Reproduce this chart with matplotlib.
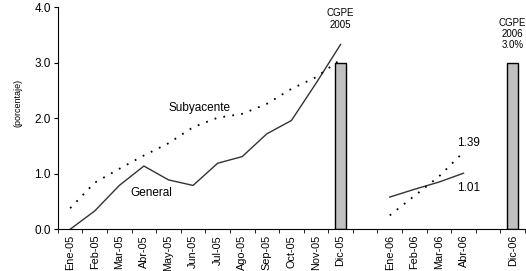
import numpy as np
import matplotlib.pyplot as plt

plt.rcParams['font.family'] = ['Liberation Sans', 'DejaVu Sans']

# categorias (huecos vacios entre periodos)
meses = ['Ene-05', 'Feb-05', 'Mar-05', 'Abr-05', 'May-05', 'Jun-05', 'Jul-05',
         'Ago-05', 'Sep-05', 'Oct-05', 'Nov-05', 'Dic-05', '',
         'Ene-06', 'Feb-06', 'Mar-06', 'Abr-06', '', 'Dic-06']

general = [0.0, 0.33, 0.79, 1.14, 0.89, 0.79, 1.19, 1.31, 1.72, 1.96, 2.63, 3.33, None,
           0.58, 0.72, 0.85, 1.01, None, None]
subyacente = [0.38, 0.84, 1.09, 1.33, 1.55, 1.84, 2.01, 2.08, 2.26, 2.53, 2.74, 3.06, None,
              0.25, 0.60, 0.95, 1.39, None, None]
cgpe = [None] * 11 + [3.0] + [None] * 6 + [3.0]

x = np.arange(len(meses))
g = np.array([np.nan if v is None else v for v in general])
s = np.array([np.nan if v is None else v for v in subyacente])
b = np.array([np.nan if v is None else v for v in cgpe])

fig = plt.figure(figsize=(5.26, 2.71), dpi=100)
ax = fig.add_axes([0.110, 0.154, 0.888, 0.819])

ax.bar(x, b, width=0.42, color='#c0c0c0', edgecolor='black', linewidth=1.0, zorder=2)
ax.plot(x, g, color='#333333', linewidth=1.0, zorder=3)
ax.plot(x, s, color='black', linestyle=(0, (1, 4)), linewidth=1.3, zorder=3)

ax.set_xlim(-0.5, len(meses) - 0.5)
ax.set_ylim(0, 4)
ax.set_yticks([0, 1, 2, 3, 4])
ax.set_yticklabels(['%.1f' % v for v in [0, 1, 2, 3, 4]], fontsize=8.5)
ax.set_ylabel('(porcentaje)', fontsize=6.5)
ax.yaxis.set_label_coords(-0.076, 0.57)

ax.set_xticks(x)
ax.set_xticklabels(meses, rotation=90, fontsize=7.8)
ax.tick_params(axis='x', which='major', length=0, pad=4)
ax.set_xticks(np.arange(-0.5, len(meses), 1), minor=True)
ax.tick_params(axis='x', which='minor', length=3, direction='out')
ax.tick_params(axis='y', length=3, direction='out', pad=2)

ax.spines['top'].set_visible(False)
ax.spines['right'].set_visible(False)

ax.text(5.28, 2.18, 'Subyacente', fontsize=8.5, ha='center', va='center')
ax.text(3.3, 0.65, 'General', fontsize=8.5, ha='center', va='center')
ax.text(16.2, 1.55, '1.39', fontsize=8.5, ha='center', va='center')
ax.text(16.2, 0.74, '1.01', fontsize=8.5, ha='center', va='center')
ax.text(11, 3.6, 'CGPE\n2005', fontsize=7, ha='center', va='bottom', linespacing=1.15)
ax.text(18, 3.23, 'CGPE\n2006\n3.0%', fontsize=7, ha='center', va='bottom', linespacing=1.15)

fig.savefig('out.png', dpi=100)
